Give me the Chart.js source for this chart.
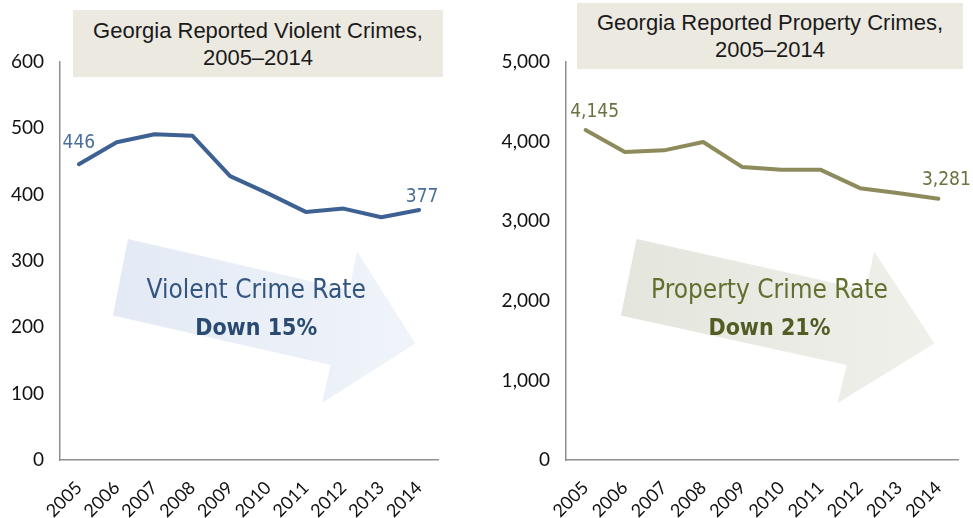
<!DOCTYPE html>
<html>
<head>
<meta charset="utf-8">
<script src="https://cdn.jsdelivr.net/npm/chart.js@4.4.1/dist/chart.umd.min.js"></script>
<style>
  html, body { margin: 0; padding: 0; background: #fff; }
  #wrap { position: relative; width: 973px; height: 518px; overflow: hidden; }
  .panel { position: absolute; top: 0; height: 518px; }
  .titleBox {
    position: absolute; background: #ECE9E1; color: #1a1a1a;
    font-family: "Liberation Sans", Arial, sans-serif; font-size: 22px; line-height: 27px;
    text-align: center; display: flex; align-items: center; justify-content: center;
  }
</style>
</head>
<body>
<div id="wrap">
  <div class="panel" style="left:0;width:480px"><canvas id="violentChart" width="480" height="518"></canvas></div>
  <div class="panel" style="left:490px;width:483px"><canvas id="propertyChart" width="483" height="518"></canvas></div>
  <div class="titleBox" style="left:73px;top:10px;width:370px;height:67px">Georgia Reported Violent Crimes,<br>2005–2014</div>
  <div class="titleBox" style="left:577px;top:3px;width:386px;height:66px">Georgia Reported Property Crimes,<br>2005–2014</div>
</div>
<script>
const years = ['2005', '2006', '2007', '2008', '2009', '2010', '2011', '2012', '2013', '2014'];
const violentCrimes = [446, 479, 491, 489, 428, 402, 374, 379, 366, 377];
const propertyCrimes = [4145, 3870, 3890, 3995, 3680, 3645, 3645, 3415, 3350, 3281];
const violentTicks = [0, 100, 200, 300, 400, 500, 600];
const propertyTicks = [0, 1000, 2000, 3000, 4000, 5000];

const fmt = v => v.toLocaleString('en-US');
const narrowFont = '"DejaVu Sans Condensed", "DejaVu Sans", sans-serif';

// big faded arrow behind the line, shape given as fractions of the plot area
const arrowShape = [
  [0.180, 0.445], [0.765, 0.573], [0.786, 0.476], [0.940, 0.707],
  [0.693, 0.857], [0.716, 0.761], [0.140, 0.637]
];

const arrowPlugin = {
  id: 'trendArrow',
  beforeDatasetsDraw(chart, args, opts) {
    const { ctx, chartArea: a } = chart;
    const w = a.right - a.left, h = a.bottom - a.top;
    const px = p => [a.left + p[0] * w, a.top + p[1] * h];
    ctx.save();
    const g = ctx.createLinearGradient(a.left + 0.14 * w, 0, a.left + 0.94 * w, 0);
    g.addColorStop(0, opts.fill);
    g.addColorStop(1, opts.fillEnd);
    ctx.fillStyle = g;
    ctx.beginPath();
    arrowShape.forEach((p, i) => {
      const [x, y] = px(p);
      i ? ctx.lineTo(x, y) : ctx.moveTo(x, y);
    });
    ctx.closePath();
    ctx.fill();

    const data = chart.data.datasets[0].data;
    const drop = Math.round((data[0] - data[data.length - 1]) / data[0] * 100);
    const cx = a.left + 0.519 * w;
    ctx.textAlign = 'center';
    ctx.textBaseline = 'alphabetic';
    ctx.fillStyle = opts.textColor;
    ctx.font = '26px ' + narrowFont;
    ctx.fillText(opts.label, cx, a.top + 0.593 * h);
    ctx.fillStyle = opts.boldColor;
    ctx.font = 'bold 23px ' + narrowFont;
    ctx.fillText('Down ' + drop + '%', cx, a.top + 0.686 * h);
    ctx.restore();
  }
};

// value labels on the first and last points
const endLabels = {
  id: 'endLabels',
  afterDatasetsDraw(chart, args, opts) {
    const { ctx } = chart;
    const meta = chart.getDatasetMeta(0);
    const data = chart.data.datasets[0].data;
    ctx.save();
    ctx.font = '19px ' + narrowFont;
    ctx.fillStyle = opts.color;
    ctx.textAlign = 'center';
    ctx.textBaseline = 'alphabetic';
    opts.items.forEach(it => {
      const pt = meta.data[it.index];
      ctx.fillText(fmt(data[it.index]), pt.x + it.dx, pt.y - it.dy);
    });
    ctx.restore();
  }
};

function makeChart(id, values, ticks, cfg) {
  return new Chart(document.getElementById(id), {
    type: 'line',
    data: {
      labels: years,
      datasets: [{
        data: values,
        borderColor: cfg.lineColor,
        borderWidth: 4,
        borderCapStyle: 'round',
        borderJoinStyle: 'round',
        pointRadius: 0,
        tension: 0,
        fill: false
      }]
    },
    options: {
      responsive: false,
      animation: false,
      layout: { padding: { top: 62, right: cfg.padRight, left: 0, bottom: 0 } },
      plugins: {
        legend: { display: false },
        tooltip: { enabled: false },
        trendArrow: cfg.arrow,
        endLabels: cfg.labels
      },
      scales: {
        x: {
          offset: true,
          grid: { display: false, drawTicks: false },
          border: { display: true, color: '#8f8f8f', width: 1.5 },
          ticks: {
            color: '#111', font: { family: 'Lato', size: 18 },
            minRotation: 45, maxRotation: 45, padding: 17, autoSkip: false
          },
          afterFit(scale) { scale.height = 58; }
        },
        y: {
          min: ticks[0],
          max: ticks[ticks.length - 1],
          afterBuildTicks(scale) { scale.ticks = ticks.map(v => ({ value: v })); },
          grid: { display: false, drawTicks: false },
          border: { display: true, color: '#8f8f8f', width: 1.5 },
          ticks: {
            color: '#111', font: { family: 'Lato', size: 19 }, padding: 16,
            callback: v => fmt(v)
          },
          afterFit(scale) { scale.width = cfg.axisWidth; }
        }
      }
    },
    plugins: [arrowPlugin, endLabels]
  });
}

makeChart('violentChart', violentCrimes, violentTicks, {
  lineColor: '#3E6193',
  padRight: 42,
  axisWidth: 60,
  arrow: { label: 'Violent Crime Rate', fill: '#E3EAF5', fillEnd: '#F0F4FA', textColor: '#34557F', boldColor: '#2B4A72' },
  labels: { color: '#4A6E9B', items: [{ index: 0, dx: 0, dy: 16 }, { index: 9, dx: 3, dy: 8 }] }
});

makeChart('propertyChart', propertyCrimes, propertyTicks, {
  lineColor: '#8D8B5C',
  padRight: 15,
  axisWidth: 76,
  arrow: { label: 'Property Crime Rate', fill: '#E4E6DD', fillEnd: '#EFF0EA', textColor: '#62702F', boldColor: '#515D24' },
  labels: { color: '#6B7140', items: [{ index: 0, dx: 9, dy: 13 }, { index: 9, dx: 8, dy: 14 }] }
});
</script>
</body>
</html>
